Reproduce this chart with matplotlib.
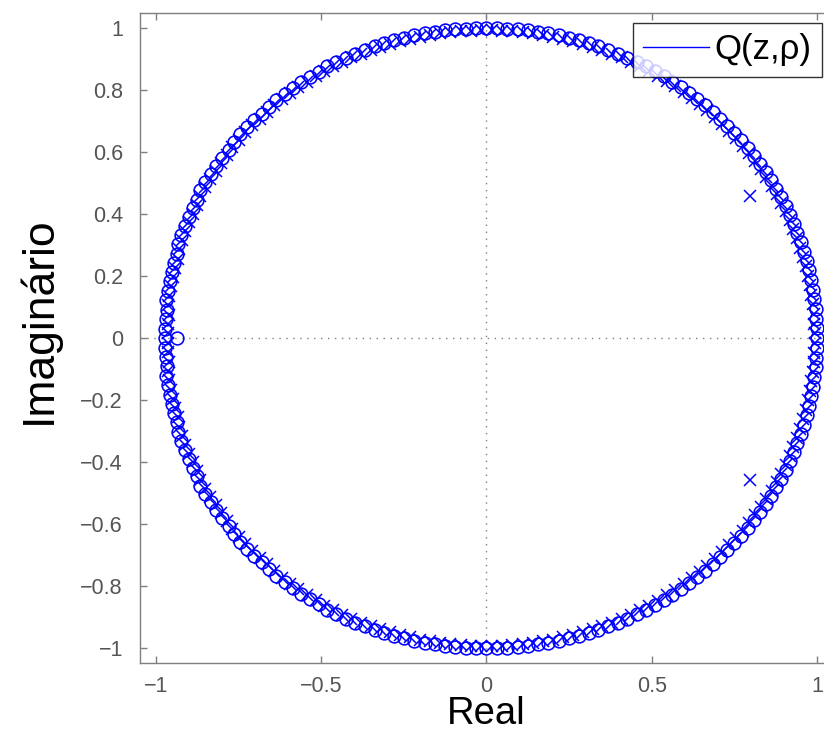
import numpy as np
import matplotlib
matplotlib.use("Agg")
import matplotlib.pyplot as plt
from matplotlib.lines import Line2D

plt.rcParams['font.family'] = ['Liberation Sans', 'DejaVu Sans']

# ---- data (upper half plane; lower half is the complex conjugate) ----
zero_angles_deg = [0.0, 1.8, 3.6, 5.4, 7.2, 9.0, 10.8, 12.6, 14.4, 16.2, 18.0, 19.8, 21.6, 23.4,
                   25.2, 27.0, 28.8, 30.6, 32.4, 34.2, 36.0, 37.8, 39.6, 41.4, 43.2, 45.0, 46.8,
                   48.6, 50.4, 52.2, 54.0, 55.8, 57.6, 59.4, 61.2, 63.0, 64.8, 66.6, 68.4, 70.2,
                   72.0, 73.8, 75.6, 77.4, 79.2, 81.0, 82.8, 84.6, 86.4, 88.2, 90.0, 91.8, 93.6,
                   95.4, 97.2, 99.0, 100.8, 102.6, 104.4, 106.2, 108.0, 109.8, 111.6, 113.4, 115.2,
                   117.0, 118.8, 120.6, 122.4, 124.2, 126.0, 127.8, 129.6, 131.4, 133.2, 135.0,
                   136.8, 138.6, 140.4, 142.2, 144.0, 145.8, 147.6, 149.4, 151.2, 153.0, 154.8,
                   156.6, 158.4, 160.2, 162.0, 163.8, 165.6, 167.4, 169.2, 171.0, 172.8, 174.6,
                   176.4, 178.2, 180.0]
zero_radius = [1.0, 1.0, 1.0, 1.0, 1.0, 1.0, 1.0, 1.0, 1.0, 1.0, 1.0, 1.0, 1.0, 1.0,
               1.0, 1.0, 1.0, 1.0, 1.0, 1.0, 1.0, 1.0, 1.0, 1.0, 1.0, 1.0, 1.0,
               1.0, 1.0, 1.0, 1.0, 1.0, 1.0, 1.0, 1.0, 1.0, 1.0, 1.0, 1.0, 1.0,
               1.0, 1.0, 1.0, 1.0, 1.0, 1.0, 1.0, 1.0, 1.0, 1.0, 1.0, 1.0, 1.0,
               1.0, 1.0, 1.0, 1.0, 1.0, 1.0, 1.0, 1.0, 1.0, 1.0, 1.0, 1.0,
               1.0, 1.0, 0.997, 0.997, 0.997, 0.997, 0.997, 0.997, 0.993, 0.993, 0.993,
               0.993, 0.993, 0.993, 0.988, 0.988, 0.988, 0.988, 0.988, 0.988, 0.982, 0.982,
               0.982, 0.982, 0.982, 0.982, 0.976, 0.976, 0.976, 0.976, 0.976, 0.976, 0.972,
               0.972, 0.972, 0.972]
extra_zeros = [(-0.937, 0.0)]

pole_angles_deg = [0.9, 2.7, 4.5, 6.3, 8.1, 9.9, 11.7, 13.5, 15.3, 17.1, 18.9, 20.7, 22.5, 24.3,
                   26.1, 27.9, 29.7, 31.5, 33.3, 35.1, 36.9, 38.7, 40.5, 42.3, 44.1, 45.9, 47.7,
                   49.5, 51.3, 53.1, 54.9, 56.7, 58.5, 60.3, 62.1, 63.9, 65.7, 67.5, 69.3, 71.1,
                   72.9, 74.7, 76.5, 78.3, 80.1, 81.9, 83.7, 85.5, 87.3, 89.1, 90.9, 92.7, 94.5,
                   96.3, 98.1, 99.9, 101.7, 103.5, 105.3, 107.1, 108.9, 110.7, 112.5, 114.3,
                   116.1, 117.9, 119.7, 121.5, 123.3, 125.1, 126.9, 128.7, 130.5, 132.3, 134.1,
                   135.9, 137.7, 139.5, 141.3, 143.1, 144.9, 146.7, 148.5, 150.3, 152.1, 153.9,
                   155.7, 157.5, 159.3, 161.1, 162.9, 164.7, 166.5, 168.3, 170.1, 171.9, 173.7,
                   175.5, 177.3, 179.1]
pole_radius = [0.993, 0.993, 0.993, 0.993, 0.993, 0.993, 0.993, 0.993, 0.993, 0.993, 0.993,
               0.993, 0.993, 0.993, 0.993, 0.993, 0.993, 0.993, 0.993, 0.993, 0.993, 0.993,
               0.993, 0.993, 0.993, 0.993, 0.993, 0.993, 0.993, 0.993, 0.993, 0.993, 0.993,
               0.993, 0.993, 0.993, 0.993, 0.993, 0.993, 0.993, 0.993, 0.993, 0.993, 0.993,
               0.993, 0.993, 0.993, 0.993, 0.993, 0.993, 0.993, 0.993, 0.993, 0.993, 0.993,
               0.993, 0.993, 0.993, 0.993, 0.993, 0.993, 0.993, 0.993, 0.993, 0.993, 0.993,
               0.993, 0.990, 0.990, 0.990, 0.990, 0.990, 0.990, 0.986, 0.986,
               0.986, 0.986, 0.986, 0.986, 0.981, 0.981, 0.981, 0.981, 0.981, 0.981, 0.975,
               0.975, 0.975, 0.975, 0.975, 0.975, 0.969, 0.969, 0.969, 0.969, 0.969, 0.969,
               0.965, 0.965, 0.965]
extra_poles = [(0.797, 0.458), (0.797, -0.458)]

x_ticks = [-1, -0.5, 0, 0.5, 1]
x_tick_labels = ['\u22121', '\u22120.5', '0', '0.5', '1']
y_ticks = [-1, -0.8, -0.6, -0.4, -0.2, 0, 0.2, 0.4, 0.6, 0.8, 1]
y_tick_labels = ['\u22121', '\u22120.8', '\u22120.6', '\u22120.4', '\u22120.2', '0',
                 '0.2', '0.4', '0.6', '0.8', '1']
legend_label = 'Q(z,\u03c1)'


def to_xy(angles, radii, extra):
    a = np.deg2rad(np.asarray(angles))
    r = np.asarray(radii)
    x = r * np.cos(a)
    y = r * np.sin(a)
    inner = (np.asarray(angles) > 0) & (np.asarray(angles) < 180)
    xs = np.concatenate([x, x[inner], [e[0] for e in extra]])
    ys = np.concatenate([y, -y[inner], [e[1] for e in extra]])
    return xs, ys


zx, zy = to_xy(zero_angles_deg, zero_radius, extra_zeros)
px, py = to_xy(pole_angles_deg, pole_radius, extra_poles)

fig = plt.figure(figsize=(8.24, 7.43), dpi=100)
ax = fig.add_axes([139.5 / 824, 80 / 743, 694 / 824, 650.5 / 743])

blue = (0, 0, 1)
gray = '#7f7f7f'
ax.axhline(0, color=gray, linestyle=(0, (1, 4)), linewidth=1.0, zorder=1)
ax.axvline(0, color=gray, linestyle=(0, (1, 4)), linewidth=1.0, zorder=1)

ax.plot(zx, zy, linestyle='none', marker='o', markersize=9.2, markerfacecolor='none',
        markeredgecolor=blue, markeredgewidth=1.15, zorder=3)
ax.plot(px, py, linestyle='none', marker='x', markersize=8.2,
        markeredgecolor=blue, markeredgewidth=1.1, zorder=3)

ax.set_xlim(-1.05, 1.05)
ax.set_ylim(-1.048, 1.05)
ax.set_xticks(x_ticks)
ax.set_xticklabels(x_tick_labels)
ax.set_yticks(y_ticks)
ax.set_yticklabels(y_tick_labels)

ax.tick_params(direction='in', length=5, width=1.0, colors=gray, labelcolor='#555555',
               labelsize=15.5, top=True, right=True)
ax.tick_params(axis='y', pad=12)
ax.tick_params(axis='x', pad=9)
for s in ax.spines.values():
    s.set_color(gray)
    s.set_linewidth(1.0)

ax.set_xlabel('Real', fontsize=27.5, labelpad=0)
ax.set_ylabel('Imaginário', fontsize=32)
ax.yaxis.set_label_coords(-0.1146, 0.527)

handle = Line2D([], [], color=blue, linewidth=1.0)
leg = ax.legend([handle], [legend_label], loc='upper left',
                bbox_to_anchor=((633 - 139.5) / 694, (663 - 22.7) / 650.5),
                fontsize=25, frameon=True, fancybox=False, edgecolor='black',
                handlelength=1.9, handletextpad=0.15, borderpad=0.3, borderaxespad=0)
leg.get_frame().set_linewidth(1.0)

fig.savefig('out.png', dpi=100)
